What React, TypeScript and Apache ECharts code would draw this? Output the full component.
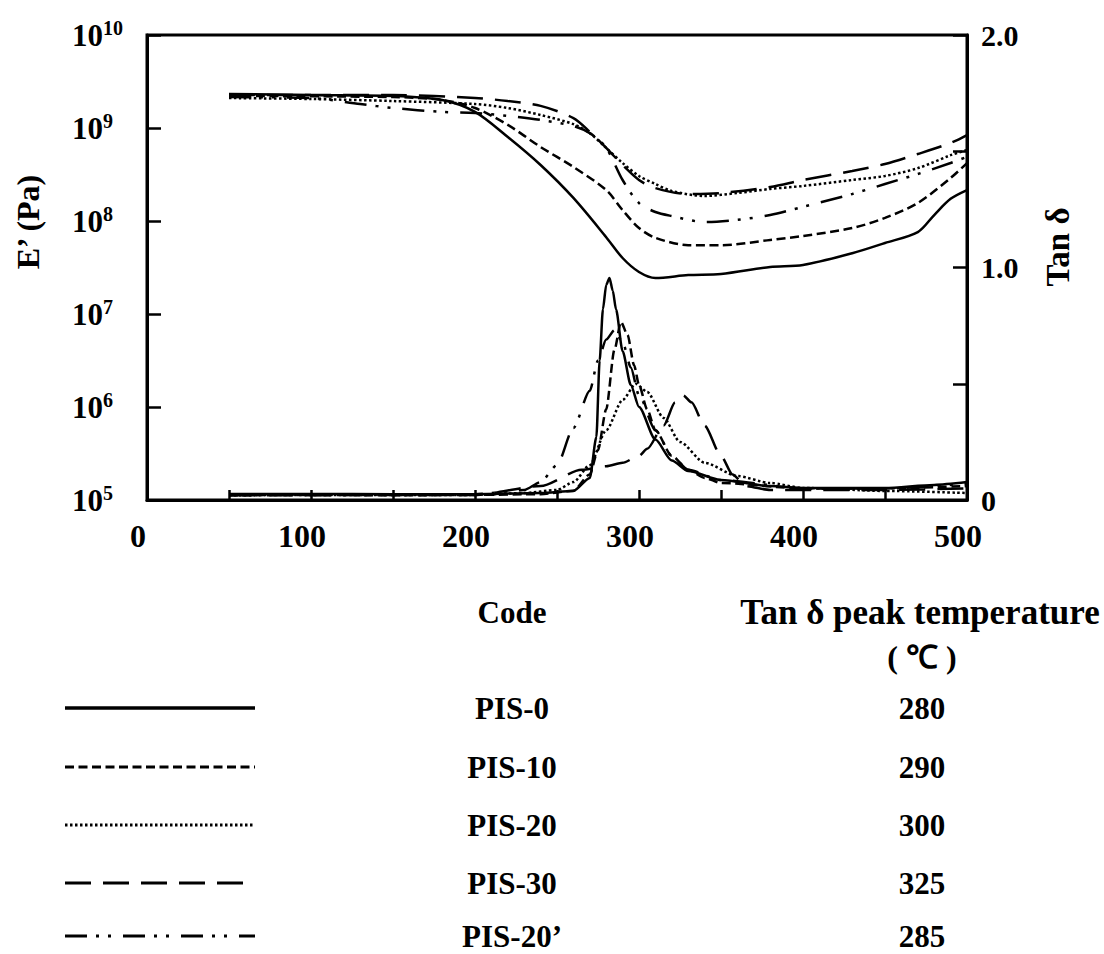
import React, { useEffect, useRef } from "react";
import * as echarts from "echarts";

// ---------- data ----------
const CODES = ["PIS-0", "PIS-10", "PIS-20", "PIS-30", "PIS-20’"];
const PEAK_TEMPS = ["280", "290", "300", "325", "285"];
const X_TICK_LABELS = [0, 100, 200, 300, 400, 500];
const TAN_LABELS: Record<string, string> = { "0": "0", "1": "1.0", "2": "2.0" };

// Storage modulus E' (Pa) vs temperature (°C)
const PIS0_E_T = [50, 100, 150, 180, 200, 220, 240, 260, 280, 290, 300, 310, 330, 350, 380, 400, 430, 450, 470, 480, 490, 500];
const PIS0_E = [2.32e9, 2.26e9, 2.21e9, 2.0e9, 1.49e9, 8.0e8, 4.0e8, 1.77e8, 6.7e7, 4.0e7, 2.83e7, 2.44e7, 2.62e7, 2.69e7, 3.2e7, 3.37e7, 4.5e7, 5.8e7, 7.6e7, 1.16e8, 1.73e8, 2.15e8];

const PIS10_E_T = [50, 150, 180, 200, 220, 240, 260, 280, 290, 300, 310, 330, 350, 380, 400, 430, 450, 470, 490, 500];
const PIS10_E = [2.21e9, 2.15e9, 2.0e9, 1.64e9, 1.08e9, 6.25e8, 3.81e8, 2.15e8, 1.31e8, 8.4e7, 6.6e7, 5.5e7, 5.5e7, 6.25e7, 6.9e7, 8.4e7, 1.08e8, 1.56e8, 2.9e8, 4.2e8];

const PIS20_E_T = [50, 100, 150, 200, 220, 240, 260, 270, 280, 290, 300, 310, 320, 340, 360, 380, 400, 430, 450, 470, 490, 500];
const PIS20_E = [2.1e9, 2.05e9, 1.95e9, 1.81e9, 1.64e9, 1.38e9, 1.1e9, 8.8e8, 6.1e8, 4.2e8, 3.05e8, 2.5e8, 2.1e8, 1.86e8, 2.0e8, 2.21e8, 2.38e8, 2.76e8, 3.05e8, 3.7e8, 5.1e8, 5.8e8];

const PIS30_E_T = [50, 150, 200, 220, 240, 260, 270, 280, 290, 300, 310, 330, 350, 380, 400, 430, 450, 470, 490, 500];
const PIS30_E = [2.26e9, 2.26e9, 2.1e9, 1.95e9, 1.73e9, 1.28e9, 9.1e8, 6.1e8, 4.0e8, 2.76e8, 2.26e8, 1.95e8, 2.0e8, 2.32e8, 2.76e8, 3.45e8, 4.1e8, 5.25e8, 6.9e8, 8.4e8];

const PIS20P_E_T = [50, 100, 130, 150, 180, 200, 220, 240, 260, 270, 280, 290, 300, 310, 320, 340, 360, 380, 400, 430, 450, 470, 490, 500];
const PIS20P_E = [2.15e9, 2.1e9, 1.81e9, 1.64e9, 1.49e9, 1.45e9, 1.35e9, 1.22e9, 1.05e9, 8.8e8, 6.1e8, 2.76e8, 1.56e8, 1.25e8, 1.13e8, 9.75e7, 1.03e8, 1.16e8, 1.42e8, 1.95e8, 2.5e8, 3.2e8, 4.2e8, 4.9e8];

// Tan delta vs temperature (°C)
const PIS0_TAN_T = [50, 100, 150, 200, 240, 260, 270, 274, 276, 278, 280, 282, 284, 286, 290, 295, 300, 310, 320, 330, 350, 380, 400, 450, 480, 500];
const PIS0_TAN = [0.026, 0.026, 0.025, 0.025, 0.03, 0.039, 0.095, 0.27, 0.6, 0.82, 0.925, 0.955, 0.9, 0.82, 0.64, 0.495, 0.4, 0.26, 0.17, 0.125, 0.086, 0.06, 0.052, 0.052, 0.065, 0.077];

const PIS10_TAN_T = [50, 100, 150, 200, 240, 260, 270, 275, 280, 285, 289, 293, 297, 300, 305, 310, 320, 330, 340, 350, 400, 450, 500];
const PIS10_TAN = [0.02, 0.022, 0.02, 0.022, 0.025, 0.04, 0.11, 0.215, 0.39, 0.645, 0.766, 0.71, 0.58, 0.495, 0.39, 0.3, 0.19, 0.13, 0.095, 0.073, 0.05, 0.05, 0.06];

const PIS20_TAN_T = [50, 100, 150, 200, 230, 250, 260, 270, 280, 290, 298, 305, 315, 325, 340, 360, 380, 400, 450, 500];
const PIS20_TAN = [0.02, 0.022, 0.022, 0.022, 0.03, 0.043, 0.077, 0.15, 0.3, 0.43, 0.5, 0.465, 0.353, 0.25, 0.16, 0.103, 0.073, 0.052, 0.039, 0.03];

const PIS30_TAN_T = [50, 100, 150, 200, 240, 265, 280, 290, 300, 305, 315, 322, 327, 332, 340, 350, 357, 365, 380, 450, 500];
const PIS30_TAN = [0.02, 0.02, 0.022, 0.022, 0.06, 0.13, 0.145, 0.16, 0.19, 0.22, 0.32, 0.42, 0.45, 0.42, 0.32, 0.19, 0.11, 0.06, 0.043, 0.043, 0.05];

const PIS20P_TAN_T = [50, 100, 150, 200, 230, 240, 250, 260, 270, 275, 280, 285, 290, 295, 300, 310, 320, 330, 350, 400, 450, 500];
const PIS20P_TAN = [0.022, 0.024, 0.024, 0.025, 0.043, 0.077, 0.15, 0.31, 0.47, 0.6, 0.69, 0.73, 0.68, 0.57, 0.45, 0.3, 0.19, 0.13, 0.086, 0.05, 0.05, 0.07];

// ---------- styles ----------
const FONT = "Liberation Serif";
const DASHES: (string | number[])[] = [
  "solid",
  [9, 4.5],
  [2.5, 2.5],
  [26, 12],
  [22, 9, 3, 9, 3, 12],
];

const zip = (t: number[], v: number[]) => t.map((x, i) => [x, v[i]]);

export default function App() {
  const ref = useRef<HTMLDivElement>(null);

  useEffect(() => {
    if (!ref.current) return;
    const chart = echarts.init(ref.current, undefined, { renderer: "svg" });

    const eSets = [
      zip(PIS0_E_T, PIS0_E),
      zip(PIS10_E_T, PIS10_E),
      zip(PIS20_E_T, PIS20_E),
      zip(PIS30_E_T, PIS30_E),
      zip(PIS20P_E_T, PIS20P_E),
    ];
    const tanSets = [
      zip(PIS0_TAN_T, PIS0_TAN),
      zip(PIS10_TAN_T, PIS10_TAN),
      zip(PIS20_TAN_T, PIS20_TAN),
      zip(PIS30_TAN_T, PIS30_TAN),
      zip(PIS20P_TAN_T, PIS20P_TAN),
    ];

    const series: any[] = [];
    CODES.forEach((code, i) => {
      const lineStyle = { color: "#000", width: 2.5, type: DASHES[i] };
      series.push({
        name: code + " E'",
        type: "line",
        yAxisIndex: 0,
        data: eSets[i],
        symbol: "none",
        smooth: 0.3,
        lineStyle,
      });
      series.push({
        name: code + " tan",
        type: "line",
        yAxisIndex: 1,
        data: tanSets[i],
        symbol: "none",
        smooth: 0.25,
        smoothMonotone: "x",
        lineStyle,
      });
    });

    const rowY = [708, 767, 825, 883, 936];
    const textEl = (text: string, x: number, y: number, size = 31, rotation = 0) => ({
      type: "text",
      x,
      y,
      rotation,
      style: {
        text,
        fill: "#000",
        fontFamily: FONT,
        fontWeight: "bold",
        fontSize: size,
        align: "center",
        verticalAlign: "middle",
      },
    });

    const graphics: any[] = [
      textEl("E’ (Pa)", 28, 222, 32, Math.PI / 2),
      textEl("Tan δ", 1058, 247, 33, Math.PI / 2),
      textEl("Code", 512, 612),
      textEl("Tan δ peak temperature", 920, 612, 35),
      textEl("( ℃ )", 922, 657, 32),
    ];
    CODES.forEach((code, i) => {
      graphics.push({
        type: "line",
        shape: { x1: 65, y1: rowY[i], x2: 255, y2: rowY[i] },
        style: {
          stroke: "#000",
          lineWidth: i === 0 ? 3.5 : 3,
          lineDash: DASHES[i] === "solid" ? null : DASHES[i],
        },
      });
      graphics.push(textEl(code, 512, rowY[i]));
      graphics.push(textEl(PEAK_TEMPS[i], 922, rowY[i]));
    });

    chart.setOption({
      animation: false,
      backgroundColor: "#fff",
      textStyle: { fontFamily: FONT },
      grid: {
        left: 147,
        top: 35,
        width: 820,
        height: 465,
        show: true,
        borderColor: "#000",
        borderWidth: 3,
      },
      xAxis: {
        type: "value",
        min: 0,
        max: 500,
        interval: 50,
        axisLine: { lineStyle: { color: "#000", width: 3 } },
        axisTick: { inside: true, length: 10, lineStyle: { color: "#000", width: 2.5 } },
        splitLine: { show: false },
        axisLabel: {
          formatter: (v: number) => (X_TICK_LABELS.includes(v) ? String(v) : ""),
          color: "#000",
          fontFamily: FONT,
          fontWeight: "bold",
          fontSize: 32,
          margin: 20,
          padding: [0, 18, 0, 0],
        },
      },
      yAxis: [
        {
          type: "log",
          logBase: 10,
          min: 1e5,
          max: 1e10,
          splitNumber: 5,
          position: "left",
          axisLine: { show: true, lineStyle: { color: "#000", width: 3 } },
          axisTick: { show: true, inside: true, length: 14, lineStyle: { color: "#000", width: 2.5 } },
          splitLine: { show: false },
          axisLabel: {
            align: "left",
            margin: 75,
            formatter: (v: number) => `{b|10}{s|${Math.round(Math.log10(v))}}`,
            rich: {
              b: { fontFamily: FONT, fontWeight: "bold", fontSize: 31, color: "#000" },
              s: { fontFamily: FONT, fontWeight: "bold", fontSize: 20, color: "#000", padding: [0, 0, 14, 0] },
            },
          },
        },
        {
          type: "value",
          min: 0,
          max: 2,
          interval: 0.5,
          position: "right",
          axisLine: { show: true, lineStyle: { color: "#000", width: 3 } },
          axisTick: { show: true, inside: true, length: 14, lineStyle: { color: "#000", width: 2.5 } },
          splitLine: { show: false },
          axisLabel: {
            margin: 14,
            formatter: (v: number) => TAN_LABELS[String(v)] ?? "",
            color: "#000",
            fontFamily: FONT,
            fontWeight: "bold",
            fontSize: 30,
          },
        },
      ],
      series,
      graphic: graphics,
    });

    return () => chart.dispose();
  }, []);

  return (
    <div
      ref={ref}
      style={{ position: "absolute", left: 0, top: 0, width: 1104, height: 954, background: "#fff" }}
    />
  );
}
